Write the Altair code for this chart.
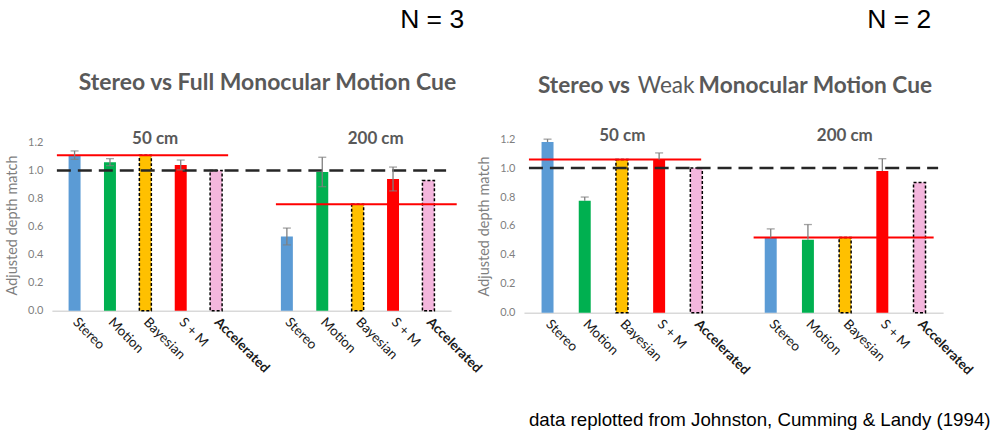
import altair as alt
import pandas as pd

# ---------------- data ----------------
labels = ["Stereo", "Motion", "Bayesian", "S + M", "Accelerated"]
colors = ["#5B9BD5", "#00B050", "#FFC000", "#FF0000", "#F4B6DD"]
is_model = [False, False, True, False, True]
pos_50 = [1, 2, 3, 4, 5]
pos_200 = [7, 8, 9, 10, 11]
y_ticks = [0.0, 0.2, 0.4, 0.6, 0.8, 1.0, 1.2]
veridical = 1.0

full_50 = [1.11, 1.06, 1.11, 1.04, 1.00]
full_50_err = [0.03, 0.025, 0.0, 0.035, 0.0]
full_200 = [0.53, 0.99, 0.76, 0.94, 0.93]
full_200_err = [0.06, 0.105, 0.0, 0.085, 0.0]

weak_50 = [1.18, 0.775, 1.06, 1.06, 1.00]
weak_50_err = [0.02, 0.025, 0.0, 0.045, 0.0]
weak_200 = [0.52, 0.505, 0.52, 0.98, 0.90]
weak_200_err = [0.06, 0.105, 0.0, 0.085, 0.0]

# red Bayesian-prediction line spans (in bar-slot units)
full_red_spans = [(0.5, 5.34), (6.69, 11.8)]
weak_red_spans = [(0.5, 5.13), (6.54, 11.38)]

GRAY = "#7f7f7f"
TITLE_GRAY = "#595959"
FONT = "Lato"


def build_df(v50, e50, v200, e200, both_sides):
    rows = []
    for pos_list, vals, errs in ((pos_50, v50, e50), (pos_200, v200, e200)):
        for p, lab, v, e, m in zip(pos_list, labels, vals, errs, is_model):
            rows.append({
                "pos": p, "label": lab, "value": v, "err": e, "model": m,
                "lo": (v - e) if both_sides else v, "hi": v + e,
            })
    return pd.DataFrame(rows)


label_array = "[''," + ",".join(f"'{l}'" for l in labels) + ",''," + ",".join(f"'{l}'" for l in labels) + "]"


def panel(v50, e50, v200, e200, both_sides, red_spans, width, height, ymax, annotations):
    df = build_df(v50, e50, v200, e200, both_sides)
    xscale = alt.Scale(domain=[0.5, 11.5], nice=False, zero=False)
    yscale = alt.Scale(domain=[0, ymax], nice=False)

    x_axis = alt.Axis(
        values=pos_50 + pos_200, labelExpr=label_array + "[datum.value]",
        labelAngle=45, labelAlign="left", labelBaseline="middle",
        labelFontSize=13.5, labelColor="#1a1a1a", labelFont=FONT,
        labelFontWeight={"condition": {"test": "datum.value == 5 || datum.value == 11", "value": "bold"},
                         "value": "normal"},
        labelOverlap=False, labelPadding=9, ticks=False, grid=False,
        domainColor="#d9d9d9", domainWidth=1.5, title=None,
    )
    y_axis = alt.Axis(
        values=y_ticks, format=".1f", grid=False, domain=False, ticks=False,
        labelOverlap=False, labelColor=GRAY, labelFontSize=11, labelFont=FONT, labelPadding=9,
        title="Adjusted depth match", titleColor=GRAY, titleFontSize=14.5,
        titleFont=FONT, titleFontWeight="normal", titlePadding=8,
    )
    X = lambda f: alt.X(f, scale=xscale, axis=x_axis, title=None)
    Y = lambda f: alt.Y(f, scale=yscale, axis=y_axis, title="Adjusted depth match")
    color = alt.Color("label:N", scale=alt.Scale(domain=labels, range=colors), legend=None)

    base = alt.Chart(df)
    solid = base.transform_filter("!datum.model").mark_bar(size=12).encode(
        x=X("pos:Q"), y=Y("value:Q"), color=color,
    )
    dashed = base.transform_filter("datum.model").mark_bar(
        size=12, stroke="black", strokeDash=[3, 2], strokeWidth=1.5
    ).encode(x=X("pos:Q"), y=Y("value:Q"), color=color)

    red_df = pd.DataFrame({
        "pos": [s[0] for s in red_spans], "x2": [s[1] for s in red_spans],
        "value": [v50[2], v200[2]],
    })
    red = alt.Chart(red_df).mark_rule(color="#FF0000", strokeWidth=2).encode(
        x=X("pos:Q"), x2="x2:Q", y=Y("value:Q"),
    )
    ver_df = pd.DataFrame({"pos": [0.5], "x2": [11.5], "value": [veridical]})
    ver = alt.Chart(ver_df).mark_rule(color="#262626", strokeWidth=2.5, strokeDash=[14, 7]).encode(
        x=X("pos:Q"), x2="x2:Q", y=Y("value:Q"),
    )

    errs = base.transform_filter("datum.err > 0")
    err_rule = errs.mark_rule(color=GRAY, strokeWidth=1.3).encode(
        x=X("pos:Q"), y=Y("lo:Q"), y2="hi:Q",
    )
    cap_hi = errs.mark_tick(orient="horizontal", size=8, thickness=1.3, color=GRAY).encode(
        x=X("pos:Q"), y=Y("hi:Q"),
    )
    layers = [solid, dashed, red, ver, err_rule, cap_hi]
    if both_sides:
        cap_lo = errs.mark_tick(orient="horizontal", size=8, thickness=1.3, color=GRAY).encode(
            x=X("pos:Q"), y=Y("lo:Q"),
        )
        layers.append(cap_lo)

    for txt, px, py, style in annotations:
        t = alt.Chart(pd.DataFrame({"t": [txt]})).mark_text(**style).encode(
            text="t:N", x=alt.value(px), y=alt.value(py)
        )
        layers.append(t)

    return alt.layer(*layers).properties(width=width, height=height)


title_style = dict(font=FONT, fontSize=23, fontWeight="bold", color=TITLE_GRAY, align="center", baseline="middle")
title_left = dict(font=FONT, fontSize=22.7, fontWeight="bold", color=TITLE_GRAY, align="left", baseline="middle")
title_left_norm = dict(font=FONT, fontSize=22.7, fontWeight="normal", color=TITLE_GRAY, align="left", baseline="middle")
grp_style = dict(font=FONT, fontSize=17, fontWeight="bold", color=TITLE_GRAY, align="center", baseline="middle")
n_style = dict(font="Liberation Sans", fontSize=26.5, color="black", align="center", baseline="alphabetic")
foot_style = dict(font="Liberation Sans", fontSize=18.75, color="black", align="left", baseline="middle")

left_ann = [
    ("N = 3", 381, -111.3, n_style),
    ("Stereo vs Full Monocular Motion Cue", 216, -56.3, title_style),
    ("50 cm", 103.5, -0.3, grp_style),
    ("200 cm", 324.5, -0.3, grp_style),
]
right_ann = [
    ("N = 2", 376, -111.3, n_style),
    ("Stereo vs", 14, -53.3, title_left),
    ("Weak", 114, -53.3, title_left_norm),
    ("Monocular Motion Cue", 175, -53.3, title_left),
    ("50 cm", 98.5, -3.3, grp_style),
    ("200 cm", 321.5, -3.3, grp_style),
    ("data replotted from Johnston, Cumming & Landy (1994)", 5, 281.7, foot_style),
]

# left: 0.0 at y=310.5, 1.2 at y=141.7 ; right: 0.0 at 312.7, 1.2 at 138.3 (shared top 138.3)
left = panel(full_50, full_50_err, full_200, full_200_err, True, full_red_spans, 400, 172, 1.224, left_ann)
right = panel(weak_50, weak_50_err, weak_200, weak_200_err, False, weak_red_spans, 420, 174, 1.2, right_ann)

chart = alt.hconcat(left, right, spacing=-8).properties(
    padding={"left": 4, "top": 6, "right": 5, "bottom": 5}, background="white"
).configure_view(stroke=None)

chart.save("out.html", embed_options={"renderer": "svg", "actions": False})
